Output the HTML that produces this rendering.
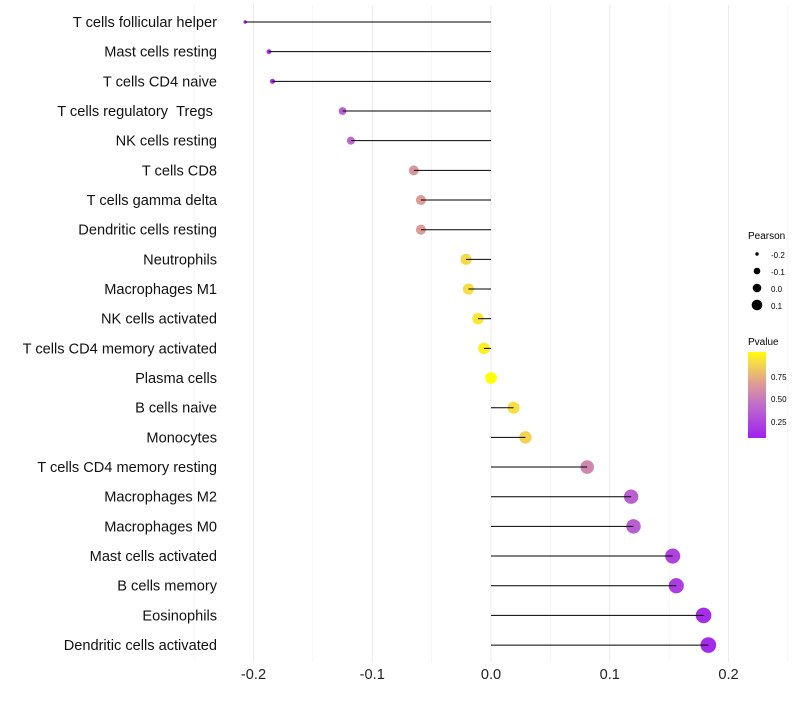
<!DOCTYPE html>
<html><head><meta charset="utf-8"><style>
body{margin:0;background:#fff;font-family:"Liberation Sans",sans-serif}
svg text{font-family:"Liberation Sans",sans-serif}
</style></head><body>
<svg id="c" width="800" height="700" xmlns="http://www.w3.org/2000/svg">
<defs><linearGradient id="pg" x1="0" y1="1" x2="0" y2="0">
<stop offset="0" stop-color="#a020f0"/><stop offset="0.4" stop-color="#c070c8"/><stop offset="0.65" stop-color="#e0a090"/><stop offset="0.9" stop-color="#f8e040"/><stop offset="1" stop-color="#ffff00"/></linearGradient></defs>
<g id="grid"></g><g id="dots"></g><g id="marks"></g><g id="ylab"></g><g id="xlab"></g>
<g>
<text x="748" y="239" font-size="10">Pearson</text>
<circle cx="757" cy="254" r="1.7"/><text x="771" y="258" font-size="8">-0.2</text>
<circle cx="757" cy="271" r="3.3"/><text x="771" y="275" font-size="8">-0.1</text>
<circle cx="757" cy="288" r="4.3"/><text x="771" y="292" font-size="8">0.0</text>
<circle cx="757" cy="305" r="5.3"/><text x="771" y="309" font-size="8">0.1</text>
</g>
<g>
<text x="748" y="345" font-size="10">Pvalue</text>
<rect x="748" y="352" width="18" height="86" fill="url(#pg)"/>
<text x="771" y="380" font-size="8">0.75</text>
<text x="771" y="402" font-size="8">0.50</text>
<text x="771" y="425" font-size="8">0.25</text>
</g>
</svg>
<script>
const categories=["T cells follicular helper","Mast cells resting","T cells CD4 naive","T cells regulatory\u00a0\u00a0Tregs\u00a0","NK cells resting","T cells CD8","T cells gamma delta","Dendritic cells resting","Neutrophils","Macrophages M1","NK cells activated","T cells CD4 memory activated","Plasma cells","B cells naive","Monocytes","T cells CD4 memory resting","Macrophages M2","Macrophages M0","Mast cells activated","B cells memory","Eosinophils","Dendritic cells activated"];
const pearson=[-0.207,-0.187,-0.184,-0.125,-0.118,-0.065,-0.059,-0.059,-0.021,-0.019,-0.011,-0.006,0.0,0.019,0.029,0.081,0.118,0.120,0.153,0.156,0.179,0.183];
const pvalues=[0.08,0.12,0.13,0.35,0.40,0.62,0.65,0.65,0.88,0.89,0.93,0.95,1.0,0.90,0.86,0.55,0.36,0.35,0.22,0.20,0.12,0.11];
const xTicks=[-0.2,-0.1,0.0,0.1,0.2];
const xTickLabels=["-0.2","-0.1","0.0","0.1","0.2"];
const NS="http://www.w3.org/2000/svg";
const x=v=>491+v*1187.5;
const y=i=>22+i*29.67;
function el(t,a,p){const e=document.createElementNS(NS,t);for(const k in a)e.setAttribute(k,a[k]);document.getElementById(p).appendChild(e);return e;}
const stops=[[0,[160,32,240]],[0.4,[192,112,200]],[0.65,[224,160,144]],[0.9,[248,224,64]],[1,[255,255,0]]];
function col(p){const t=Math.max(0,Math.min(1,(p-0.06)/0.94));for(let k=1;k<stops.length;k++){if(t<=stops[k][0]){const a=stops[k-1],b=stops[k];const f=(t-a[0])/(b[0]-a[0]);return `rgb(${a[1].map((v,i)=>Math.round(v+(b[1][i]-v)*f))})`;}}return 'rgb(255,255,0)';}
for(let v=-0.25;v<=0.2501;v+=0.05){const g=el('line',{x1:x(v),x2:x(v),y1:5,y2:662,stroke:'#ebebeb','stroke-width':Math.abs(Math.round(v*20))%2===0?1:0.5},'grid');

}
xTicks.forEach((t,i)=>{const e=el('text',{x:x(t),y:679,'font-size':14.6,'text-anchor':'middle',fill:'#222'},'xlab');e.textContent=xTickLabels[i];

});
categories.forEach((c,i)=>{
const t=el('text',{x:217,y:y(i)+5,'font-size':14.6,'text-anchor':'end',fill:'#111'},'ylab');t.textContent=c;


const r=Math.sqrt(Math.max(2,34+150*pearson[i]));
const d=el('circle',{cx:x(pearson[i]),cy:y(i),r:r,fill:col(pvalues[i])},'dots');


const l=el('line',{x1:x(0),x2:x(pearson[i]),y1:y(i),y2:y(i),stroke:'#000','stroke-width':1},'marks');


});
</script>
</body></html>
